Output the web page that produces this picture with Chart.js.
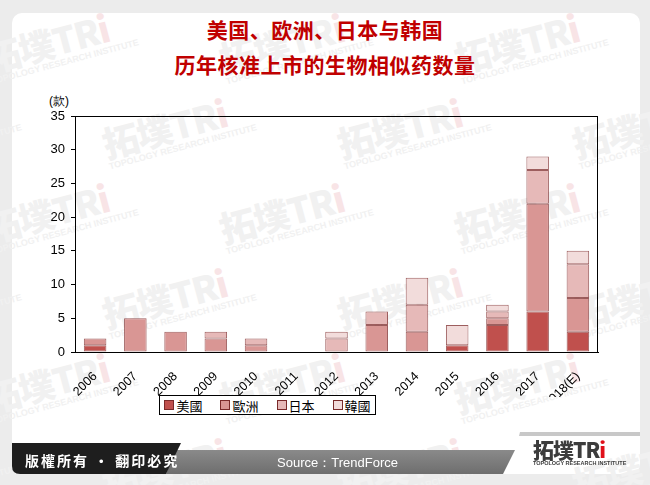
<!DOCTYPE html>
<html>
<head>
<meta charset="utf-8">
<script src="https://cdn.jsdelivr.net/npm/chart.js@4.4.1/dist/chart.umd.min.js"></script>
<style>
  html, body { margin:0; padding:0; width:650px; height:485px; background:#ececec; overflow:hidden; }
  #card { position:absolute; left:12px; top:13px; width:628px; height:461px; background:#fff; border-radius:10px; overflow:hidden; }
  #wm { position:absolute; left:0; top:0; width:650px; height:485px; overflow:hidden; }
  .wmi { position:absolute; transform:rotate(-15deg); transform-origin:left top; white-space:nowrap; color:#f1f1f1; }
  .wmi .big { font-family:"Noto Sans CJK SC", sans-serif; font-weight:900; font-size:36px; line-height:38px; letter-spacing:-1px; }
  .wmi .big span { color:#f8e4e6; }
  .wmi .small { font-family:"Liberation Sans", Arial, sans-serif; font-size:9px; font-weight:bold; line-height:10px; }
  #title { position:absolute; left:0; width:650px; top:12px; text-align:center; color:#c00000; font-family:"Noto Sans CJK SC", sans-serif; font-weight:bold; font-size:21px; line-height:35px; letter-spacing:0.5px; }
  #unit { position:absolute; left:49px; top:93px; font-family:"Liberation Sans", Arial, sans-serif; font-size:12px; color:#000; }
  #chartwrap { position:absolute; left:0; top:0; width:650px; height:485px; }
  #legend { position:absolute; left:159px; top:395px; width:215px; height:18px; border:1px solid #000; background:#fff; display:flex; align-items:center; justify-content:center; gap:18px; font-family:"Noto Sans CJK TC", sans-serif; font-size:13px; }
  #legend .it { display:flex; align-items:center; gap:2px; }
  #legend .sw { width:8px; height:8px; border:1px solid #7a2a2a; display:inline-block; }
  #footer { position:absolute; left:0; top:0; }
  #copy { position:absolute; left:25px; top:451px; color:#fff; font-family:"Noto Sans CJK TC", sans-serif; font-weight:bold; font-size:14px; letter-spacing:2px; line-height:18px; }
  #src { position:absolute; left:230px; width:215px; text-align:center; top:455px; color:#fff; font-family:"Liberation Sans", Arial, sans-serif; font-size:13px; line-height:16px; }
  #logo { position:absolute; left:533px; top:438px; color:#3c3c3c; }
  #logo .big { font-family:"Noto Sans CJK SC", sans-serif; font-weight:900; font-size:21px; line-height:22px; letter-spacing:-1px; }
  #logo .big span { color:#e0101a; }
  #logo .small { font-family:"Liberation Sans", Arial, sans-serif; font-size:5.5px; font-weight:bold; line-height:7px; letter-spacing:0px; }
</style>
</head>
<body>
<div id="card"></div>
<div id="wm"></div>
<div id="title">美国、欧洲、日本与韩国<br>历年核准上市的生物相似药数量</div>
<div id="unit">(款)</div>
<div id="chartwrap"><canvas id="c" width="650" height="485"></canvas></div>
<div id="legend"></div>
<svg id="footer" width="650" height="485">
  <defs>
    <linearGradient id="gg" x1="0" y1="0" x2="0" y2="1">
      <stop offset="0" stop-color="#8a8a8a"/>
      <stop offset="1" stop-color="#6e6e6e"/>
    </linearGradient>
  </defs>
  <polygon points="520,432 640,432 640,436 519,436" fill="#c8c8c8"/>
  <polygon points="175,450 515,450 503,474 166,474" fill="url(#gg)"/>
  <path d="M12,443 L181,443 L166,474 L20,474 Q12,474 12,466 Z" fill="#1e1e1e"/>
</svg>
<div id="copy">版權所有 · 翻印必究</div>
<div id="src">Source：TrendForce</div>
<div id="logo"><div class="big">拓墣TR<span>i</span></div><div class="small">TOPOLOGY RESEARCH INSTITUTE</div></div>
<script>
const years = ['2006','2007','2008','2009','2010','2011','2012','2013','2014','2015','2016','2017','2018(E)'];
const seriesNames = ['美國','歐洲','日本','韓國'];
const usValues    = [1,0,0,0,0,0,0,0,0,1,4,6,3];
const euValues    = [1,5,3,2,1,0,0,4,3,0,1,16,5];
const jpValues    = [0,0,0,1,1,0,2,2,4,0,1,5,5];
const krValues    = [0,0,0,0,0,0,1,0,4,3,1,2,2];
const yTicks      = [0,5,10,15,20,25,30,35];

const colors = ['#c0504d','#d99694','#e6b9b8','#f2dcdb'];
const allValues = [usValues, euValues, jpValues, krValues];

// watermark
(function(){
  const wm = document.getElementById('wm');
  const rows = [40, 125, 210, 295, 380, 465];
  rows.forEach((y, r) => {
    for (let k = -1; k < 4; k++) {
      const x = k * 235 + (r % 2) * 118 - 20;
      const d = document.createElement('div');
      d.className = 'wmi';
      d.style.left = x + 'px';
      d.style.top = y + 'px';
      d.innerHTML = '<div class="big">拓墣TR<span>i</span></div><div class="small">TOPOLOGY RESEARCH INSTITUTE</div>';
      wm.appendChild(d);
    }
  });
})();

// legend
(function(){
  const lg = document.getElementById('legend');
  seriesNames.forEach((n, i) => {
    const it = document.createElement('div');
    it.className = 'it';
    it.innerHTML = '<span class="sw" style="background:' + colors[i] + '"></span><span>' + n + '</span>';
    lg.appendChild(it);
  });
})();

const boxPlugin = {
  id: 'box',
  afterDraw(chart) {
    const a = chart.chartArea, ctx = chart.ctx;
    ctx.save();
    ctx.strokeStyle = '#000';
    ctx.lineWidth = 1;
    ctx.strokeRect(Math.round(a.left) + 0.5, Math.round(a.top) + 0.5, Math.round(a.right - a.left) - 1, Math.round(a.bottom - a.top));
    ctx.restore();
  }
};

new Chart(document.getElementById('c'), {
  type: 'bar',
  data: {
    labels: years,
    datasets: seriesNames.map((n, i) => ({
      label: n,
      data: allValues[i].map(v => v === 0 ? null : v),
      backgroundColor: colors[i],
      borderColor: 'rgba(115,25,25,0.7)',
      borderWidth: 1,
      borderSkipped: false,
      categoryPercentage: 1,
      barPercentage: 0.56
    }))
  },
  options: {
    responsive: false,
    animation: false,
    devicePixelRatio: 1,
    layout: { padding: { left: 40, right: 52, top: 116, bottom: 88 } },
    plugins: { legend: { display: false }, tooltip: { enabled: false } },
    scales: {
      x: {
        stacked: true,
        grid: { display: false },
        border: { display: true, color: '#000', width: 1 },
        ticks: { color: '#000', font: { family: 'Liberation Sans, Arial, sans-serif', size: 12.5 }, maxRotation: 45, minRotation: 45, padding: 9 },
        afterFit(s) { s.height = 45; }
      },
      y: {
        stacked: true,
        min: 0, max: 35,
        afterBuildTicks(s) { s.ticks = yTicks.map(v => ({ value: v })); },
        grid: { display: true, drawOnChartArea: false, drawTicks: true, tickLength: 4, color: '#000' },
        border: { display: true, color: '#000', width: 1 },
        ticks: { color: '#000', font: { family: 'Liberation Sans, Arial, sans-serif', size: 13 }, padding: 6 },
        afterFit(s) { s.width = 35; }
      }
    }
  },
  plugins: [boxPlugin]
});
</script>
</body>
</html>
